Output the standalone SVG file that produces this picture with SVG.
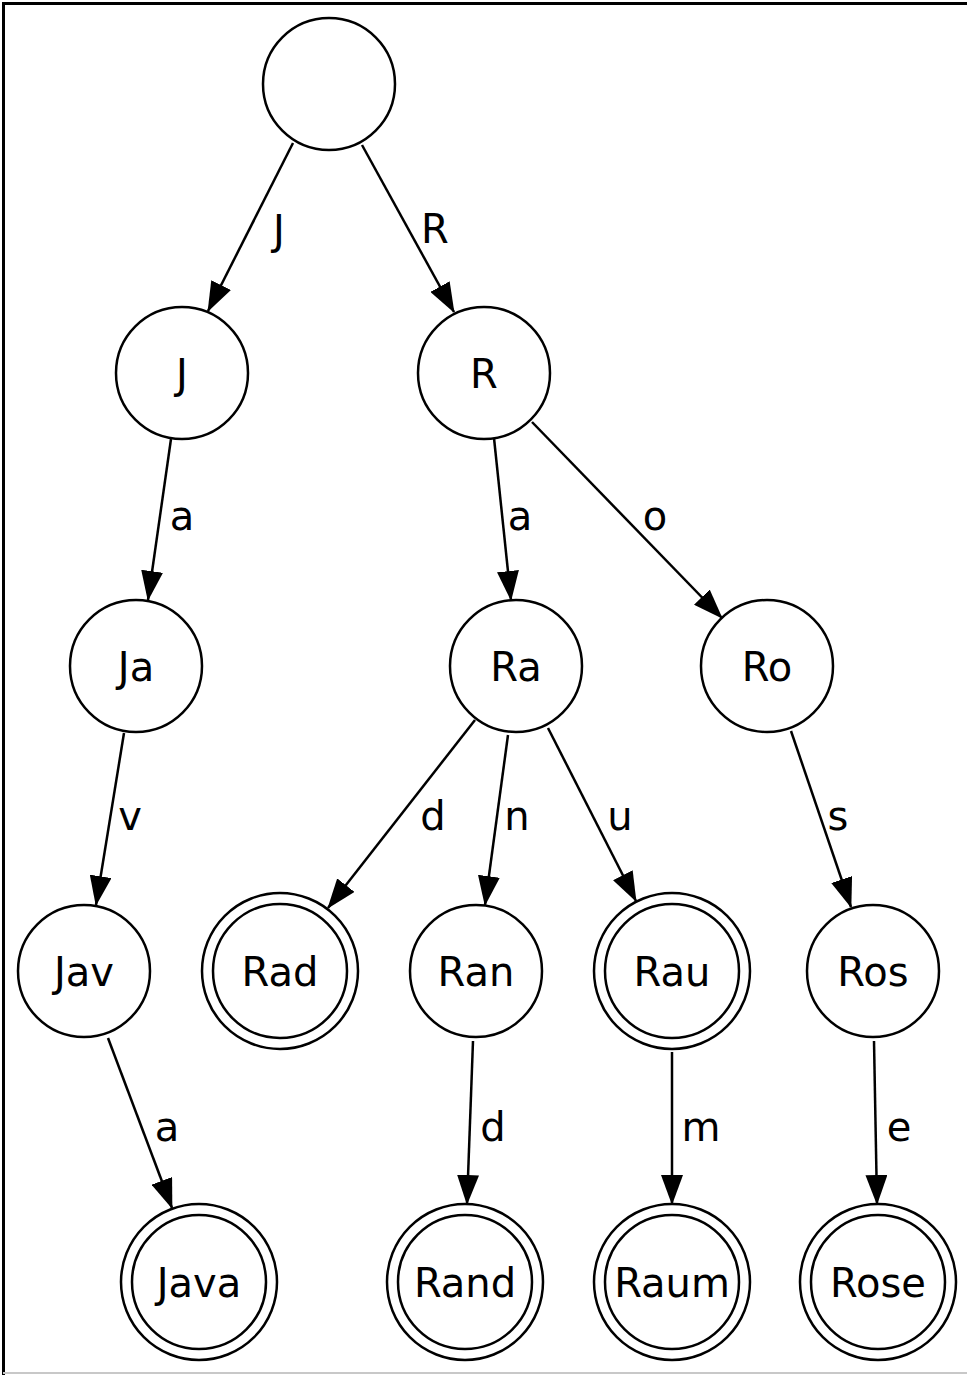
<svg xmlns="http://www.w3.org/2000/svg" width="967" height="1375" viewBox="0 0 967 1375">
<style>
.n{fill:#fff;stroke:#000;stroke-width:2.5}
.e{fill:none;stroke:#000;stroke-width:2.5;marker-end:url(#ah)}
text{font-family:"DejaVu Sans","Liberation Sans",sans-serif;font-size:40px;fill:#000;text-anchor:middle}
</style>
<defs>
<marker id="ah" markerUnits="userSpaceOnUse" viewBox="0 0 30 22" markerWidth="30" markerHeight="22" refX="29" refY="11" orient="auto">
<path d="M0,0 L30,11 L0,22 z" fill="#000"/>
</marker>
</defs>
<rect x="0" y="0" width="967" height="1375" fill="#fff"/>
<path d="M3.5,1375 V3.5 H967" fill="none" stroke="#000" stroke-width="3"/>
<line x1="3" y1="1373" x2="967" y2="1373" stroke="#c8c8c8" stroke-width="2"/>
<g id="edges">
<path class="e" d="M293,143 L208,311"/>
<path class="e" d="M362,145 L454,312"/>
<path class="e" d="M171,439 L148,600"/>
<path class="e" d="M124,733 L96,905"/>
<path class="e" d="M108,1038 L172,1208"/>
<path class="e" d="M494,438 L511,600"/>
<path class="e" d="M532,422 L722,618"/>
<path class="e" d="M475,720 L328,908"/>
<path class="e" d="M508,735 L485,905"/>
<path class="e" d="M548,728 L636,901"/>
<path class="e" d="M791,731 L851,907"/>
<path class="e" d="M473,1041 L467,1204"/>
<path class="e" d="M672,1052 L672,1204"/>
<path class="e" d="M874,1041 L877,1204"/>
<text x="279" y="244">J</text>
<text x="435" y="243">R</text>
<text x="182" y="530">a</text>
<text x="520" y="530">a</text>
<text x="655" y="530">o</text>
<text x="130" y="830">v</text>
<text x="433" y="830">d</text>
<text x="517" y="830">n</text>
<text x="620" y="830">u</text>
<text x="838" y="830">s</text>
<text x="167" y="1141">a</text>
<text x="493" y="1141">d</text>
<text x="701" y="1141">m</text>
<text x="899" y="1141">e</text>
</g>
<g id="root"><circle class="n" cx="329" cy="84" r="66"/></g>
<g id="J"><circle class="n" cx="182" cy="373" r="66"/><text x="182" y="388">J</text></g>
<g id="R"><circle class="n" cx="484" cy="373" r="66"/><text x="484" y="388">R</text></g>
<g id="Ja"><circle class="n" cx="136" cy="666" r="66"/><text x="136" y="681">Ja</text></g>
<g id="Ra"><circle class="n" cx="516" cy="666" r="66"/><text x="516" y="681">Ra</text></g>
<g id="Ro"><circle class="n" cx="767" cy="666" r="66"/><text x="767" y="681">Ro</text></g>
<g id="Jav"><circle class="n" cx="84" cy="971" r="66"/><text x="84" y="986">Jav</text></g>
<g id="Rad"><circle class="n" cx="280" cy="971" r="78"/><circle class="n" cx="280" cy="971" r="67"/><text x="280" y="986">Rad</text></g>
<g id="Ran"><circle class="n" cx="476" cy="971" r="66"/><text x="476" y="986">Ran</text></g>
<g id="Rau"><circle class="n" cx="672" cy="971" r="78"/><circle class="n" cx="672" cy="971" r="67"/><text x="672" y="986">Rau</text></g>
<g id="Ros"><circle class="n" cx="873" cy="971" r="66"/><text x="873" y="986">Ros</text></g>
<g id="Java"><circle class="n" cx="199" cy="1282" r="78"/><circle class="n" cx="199" cy="1282" r="67"/><text x="199" y="1297">Java</text></g>
<g id="Rand"><circle class="n" cx="465" cy="1282" r="78"/><circle class="n" cx="465" cy="1282" r="67"/><text x="465" y="1297">Rand</text></g>
<g id="Raum"><circle class="n" cx="672" cy="1282" r="78"/><circle class="n" cx="672" cy="1282" r="67"/><text x="672" y="1297">Raum</text></g>
<g id="Rose"><circle class="n" cx="878" cy="1282" r="78"/><circle class="n" cx="878" cy="1282" r="67"/><text x="878" y="1297">Rose</text></g>
</svg>
